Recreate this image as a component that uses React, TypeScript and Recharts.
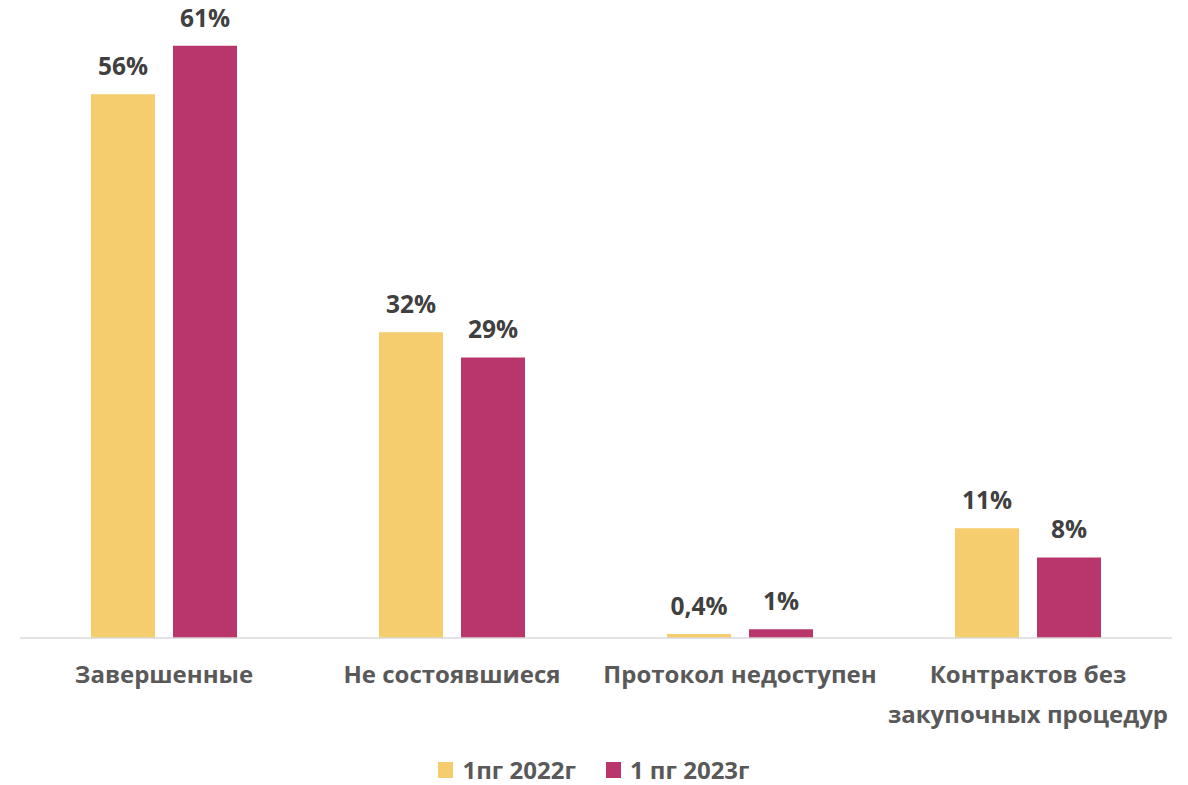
import React from 'react';
import { BarChart, Bar, XAxis, YAxis, Legend, LabelList } from 'recharts';

const categories = ['Завершенные', 'Не состоявшиеся', 'Протокол недоступен', 'Контрактов без\nзакупочных процедур'];
const values2022 = [56, 31.5, 0.4, 11.3];
const values2023 = [61, 28.9, 0.9, 8.3];
const labels2022 = ['56%', '32%', '0,4%', '11%'];
const labels2023 = ['61%', '29%', '1%', '8%'];
const seriesNames = ['1пг 2022г', '1 пг 2023г'];

const COLOR_2022 = '#F5CD6E';
const COLOR_2023 = '#B8366C';
const FONT = '"Open Sans", "Noto Sans", sans-serif';

const chartData = categories.map((name, i) => ({
  name,
  y2022: values2022[i],
  y2023: values2023[i],
}));

const CategoryTick = ({ x, y, payload }: any) => {
  const lines = String(payload.value).split('\n');
  return (
    <text
      x={x}
      y={y + 45}
      textAnchor="middle"
      fill="#595959"
      fontFamily={FONT}
      fontWeight={700}
      fontSize={24}
    >
      {lines.map((line, i) => (
        <tspan key={i} x={x} dy={i === 0 ? 0 : 40}>
          {line}
        </tspan>
      ))}
    </text>
  );
};

const makeValueLabel = (labels: string[]) => (props: any) => {
  const { x, y, width, index } = props;
  return (
    <text
      x={x + width / 2}
      y={y - 19}
      textAnchor="middle"
      fill="#404040"
      fontFamily={FONT}
      fontWeight={700}
      fontSize={24.5}
    >
      {labels[index]}
    </text>
  );
};

const LegendContent = () => {
  const items = [
    { name: seriesNames[0], color: COLOR_2022 },
    { name: seriesNames[1], color: COLOR_2023 },
  ];
  return (
    <div
      style={{
        display: 'flex',
        justifyContent: 'center',
        gap: 30,
        fontFamily: FONT,
        fontWeight: 700,
        fontSize: 24,
        color: '#595959',
      }}
    >
      {items.map((it) => (
        <div key={it.name} style={{ display: 'flex', alignItems: 'center' }}>
          <span
            style={{
              display: 'inline-block',
              width: 15,
              height: 16,
              background: it.color,
              marginRight: 9,
            }}
          />
          <span>{it.name}</span>
        </div>
      ))}
    </div>
  );
};

export default function App() {
  return (
    <div style={{ position: 'absolute', left: 0, top: 0, width: 1188, height: 785, background: '#fff' }}>
      <BarChart
        width={1188}
        height={785}
        data={chartData}
        margin={{ top: 7, right: 16, bottom: 0, left: 20 }}
        barSize={64}
        barGap={18}
      >
        <XAxis
          dataKey="name"
          axisLine={{ stroke: '#D9D9D9', strokeWidth: 1.5 }}
          tickLine={false}
          tickSize={0}
          tickMargin={0}
          height={147}
          interval={0}
          tick={<CategoryTick />}
        />
        <YAxis hide domain={[0, 65]} />
        <Legend
          verticalAlign="middle"
          layout="horizontal"
          align="center"
          wrapperStyle={{ position: 'absolute', top: 753, left: 0, width: 1188 }}
          content={<LegendContent />}
        />
        <Bar dataKey="y2022" name={seriesNames[0]} fill={COLOR_2022} isAnimationActive={false}>
          <LabelList dataKey="y2022" content={makeValueLabel(labels2022)} />
        </Bar>
        <Bar dataKey="y2023" name={seriesNames[1]} fill={COLOR_2023} isAnimationActive={false}>
          <LabelList dataKey="y2023" content={makeValueLabel(labels2023)} />
        </Bar>
      </BarChart>
    </div>
  );
}
